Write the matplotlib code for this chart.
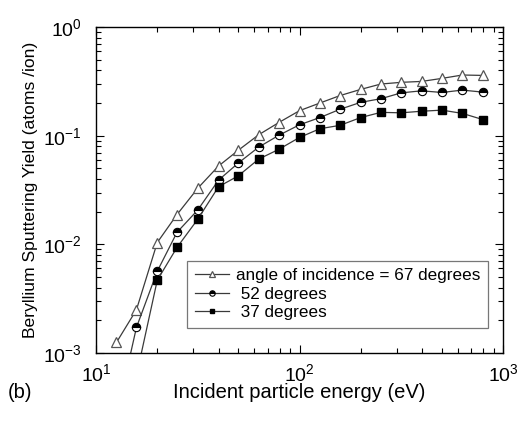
import numpy as np
import matplotlib
matplotlib.use("Agg")
import matplotlib.pyplot as plt

plt.rcParams['font.family'] = ['Liberation Sans', 'DejaVu Sans']
plt.rcParams['mathtext.fontset'] = 'custom'
plt.rcParams['mathtext.rm'] = 'Liberation Sans'

# Incident energy (eV)
energy = [12.6, 15.8, 20, 25, 31.6, 40, 50, 63, 79, 100, 126, 158, 200,
          251, 316, 398, 501, 631, 794]

# Sputtering yield (atoms/ion)
yield_67 = [1.25e-3, 2.5e-3, 0.0104, 0.0188, 0.0328, 0.0526, 0.0734, 0.102,
            0.132, 0.170, 0.200, 0.234, 0.267, 0.299, 0.310, 0.316, 0.337,
            0.362, 0.359]
yield_52 = [2.6e-4, 1.72e-3, 5.66e-3, 0.0129, 0.0207, 0.039, 0.056, 0.0785,
            0.1007, 0.126, 0.147, 0.175, 0.203, 0.219, 0.248, 0.259, 0.250,
            0.263, 0.252]
energy_37 = energy[1:]
yield_37 = [6.2e-4, 4.68e-3, 9.37e-3, 0.0170, 0.0339, 0.0427, 0.0609, 0.0748,
            0.0964, 0.116, 0.1245, 0.147, 0.164, 0.1625, 0.168, 0.172,
            0.1605, 0.141]

labels = ["angle of incidence = 67 degrees", " 52 degrees", " 37 degrees"]


def main():
    fig = plt.figure(figsize=(5.32, 4.23), dpi=100)
    ax = fig.add_axes([0.1805, 0.1655, 0.765, 0.7705])

    line_c = '#3a3a3a'
    ax.plot(energy, yield_67, '-', color=line_c, lw=0.9, marker='^', ms=7,
            mfc='white', mec='#555555', mew=0.9, label=labels[0])
    ax.plot(energy, yield_52, '-', color=line_c, lw=0.9, marker='o', ms=6,
            fillstyle='top', mfc='black', mfcalt='white', mec='black',
            mew=0.8, label=labels[1])
    ax.plot(energy_37, yield_37, '-', color=line_c, lw=0.9, marker='s', ms=5.5,
            mfc='black', mec='black', label=labels[2])

    ax.set_xscale('log')
    ax.set_yscale('log')
    ax.set_xlim(10, 1000)
    ax.set_ylim(1e-3, 1)

    ax.tick_params(which='both', direction='in', top=True, right=True,
                   labelsize=14, width=0.8)
    ax.tick_params(which='major', length=6, pad=7)
    ax.tick_params(axis='y', which='major', pad=10)
    ax.tick_params(which='minor', length=3.5)
    for s in ax.spines.values():
        s.set_linewidth(1.0)

    ax.set_xlabel("Incident particle energy (eV)", fontsize=14.5, labelpad=-1)
    ax.set_ylabel("Beryllium Sputtering Yield (atoms /ion)", fontsize=12.6,
                  labelpad=4)
    fig.text(0.015, 0.06, "(b)", fontsize=14.5)

    leg = ax.legend(loc='upper left', bbox_to_anchor=(0.2236, 0.283),
                    borderaxespad=0, fontsize=12.3, fancybox=False,
                    edgecolor='#555555', handlelength=2.0, handletextpad=0.4,
                    labelspacing=0.2, borderpad=0.45, markerscale=0.65)
    leg.get_frame().set_linewidth(0.9)

    fig.savefig("out.png", dpi=100)


if __name__ == "__main__":
    main()
